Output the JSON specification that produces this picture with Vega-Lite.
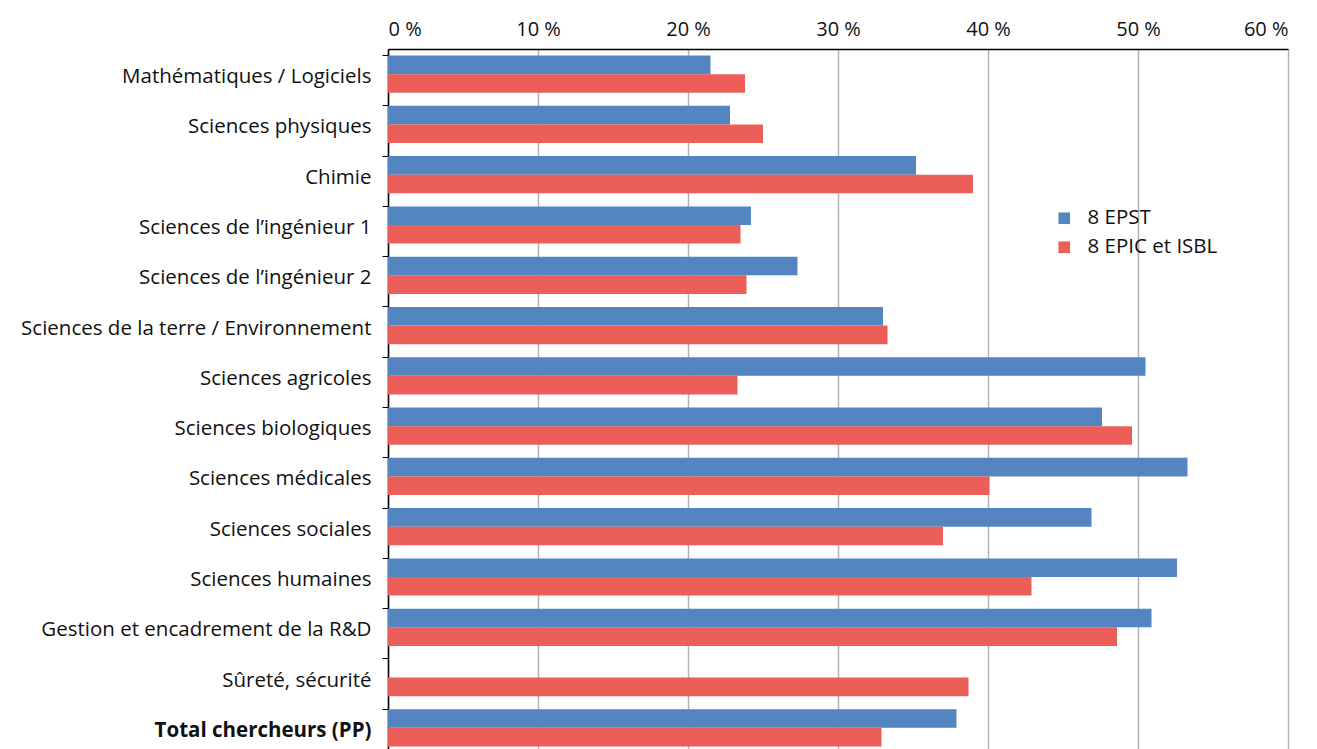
{
  "$schema": "https://vega.github.io/schema/vega-lite/v6.json",
  "width": 900,
  "height": 704,
  "autosize": {"type": "none"},
  "padding": {"left": 388, "top": 49, "right": 29, "bottom": 0},
  "background": "white",
  "config": {"view": {"stroke": null}, "font": "Open Sans"},
  "data": {"values": [
    {"cat": "Mathématiques / Logiciels", "serie": "8 EPST", "v": 21.5},
    {"cat": "Mathématiques / Logiciels", "serie": "8 EPIC et ISBL", "v": 23.8},
    {"cat": "Sciences physiques", "serie": "8 EPST", "v": 22.8},
    {"cat": "Sciences physiques", "serie": "8 EPIC et ISBL", "v": 25.0},
    {"cat": "Chimie", "serie": "8 EPST", "v": 35.2},
    {"cat": "Chimie", "serie": "8 EPIC et ISBL", "v": 39.0},
    {"cat": "Sciences de l’ingénieur 1", "serie": "8 EPST", "v": 24.2},
    {"cat": "Sciences de l’ingénieur 1", "serie": "8 EPIC et ISBL", "v": 23.5},
    {"cat": "Sciences de l’ingénieur 2", "serie": "8 EPST", "v": 27.3},
    {"cat": "Sciences de l’ingénieur 2", "serie": "8 EPIC et ISBL", "v": 23.9},
    {"cat": "Sciences de la terre / Environnement", "serie": "8 EPST", "v": 33.0},
    {"cat": "Sciences de la terre / Environnement", "serie": "8 EPIC et ISBL", "v": 33.3},
    {"cat": "Sciences agricoles", "serie": "8 EPST", "v": 50.5},
    {"cat": "Sciences agricoles", "serie": "8 EPIC et ISBL", "v": 23.3},
    {"cat": "Sciences biologiques", "serie": "8 EPST", "v": 47.6},
    {"cat": "Sciences biologiques", "serie": "8 EPIC et ISBL", "v": 49.6},
    {"cat": "Sciences médicales", "serie": "8 EPST", "v": 53.3},
    {"cat": "Sciences médicales", "serie": "8 EPIC et ISBL", "v": 40.1},
    {"cat": "Sciences sociales", "serie": "8 EPST", "v": 46.9},
    {"cat": "Sciences sociales", "serie": "8 EPIC et ISBL", "v": 37.0},
    {"cat": "Sciences humaines", "serie": "8 EPST", "v": 52.6},
    {"cat": "Sciences humaines", "serie": "8 EPIC et ISBL", "v": 42.9},
    {"cat": "Gestion et encadrement de la R&D", "serie": "8 EPST", "v": 50.9},
    {"cat": "Gestion et encadrement de la R&D", "serie": "8 EPIC et ISBL", "v": 48.6},
    {"cat": "Sûreté, sécurité", "serie": "8 EPIC et ISBL", "v": 38.7},
    {"cat": "Total chercheurs (PP)", "serie": "8 EPST", "v": 37.9},
    {"cat": "Total chercheurs (PP)", "serie": "8 EPIC et ISBL", "v": 32.9}
  ]},
  "mark": {"type": "bar"},
  "encoding": {
    "y": {
      "field": "cat", "type": "nominal", "sort": null,
      "scale": {"paddingInner": 0.26, "paddingOuter": 0.13},
      "axis": {
        "title": null, "bandPosition": 0, "domainColor": "#000", "domainWidth": 1.5,
        "tickColor": "#000", "tickSize": 6, "labelFontSize": 20.5, "labelColor": "#111",
        "labelPadding": 11, "labelLimit": 400, "labelOffset": 3,
        "labelFontWeight": {"condition": {"test": "datum.value == 'Total chercheurs (PP)'", "value": "bold"}, "value": "normal"}
      }
    },
    "yOffset": {"field": "serie", "type": "nominal", "sort": ["8 EPST", "8 EPIC et ISBL"], "scale": {"paddingInner": 0, "paddingOuter": 0}},
    "x": {
      "field": "v", "type": "quantitative",
      "scale": {"domain": [0, 60], "nice": false},
      "axis": {
        "orient": "top", "title": null, "values": [0, 10, 20, 30, 40, 50, 60],
        "labelExpr": "datum.value + ' %'", "labelFontSize": 20, "labelColor": "#111",
        "ticks": false, "labelPadding": 10, "domainColor": "#000", "domainWidth": 1.5,
        "grid": true, "gridColor": "#b3b3b3", "gridWidth": 1.5
      }
    },
    "color": {
      "field": "serie", "type": "nominal",
      "scale": {"domain": ["8 EPST", "8 EPIC et ISBL"], "range": ["#5585c0", "#ec5e58"]},
      "legend": {
        "title": null, "orient": "none", "legendX": 666, "legendY": 159,
        "symbolType": "square", "symbolSize": 135, "symbolStrokeWidth": 0,
        "labelFontSize": 20.5, "labelColor": "#111", "rowPadding": 8, "labelOffset": 13
      }
    }
  }
}
